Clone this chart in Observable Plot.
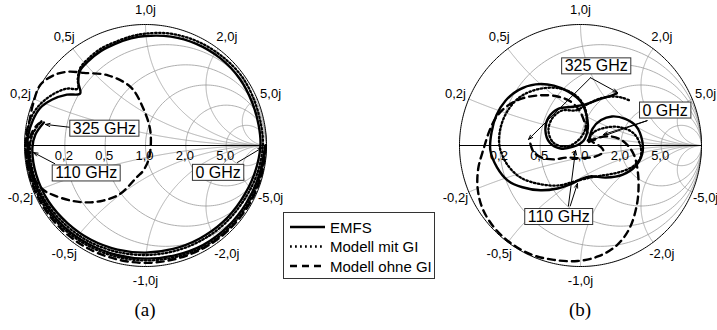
<!DOCTYPE html>
<html><head><meta charset="utf-8">
<script src="https://cdn.jsdelivr.net/npm/d3@7"></script>
<script src="https://cdn.jsdelivr.net/npm/@observablehq/plot@0.6"></script>
<style>
body{margin:0;background:#fff;}
#wrap{position:relative;width:717px;height:330px;overflow:hidden;font-family:"Liberation Sans",Arial,sans-serif;background:#fff;}
.chart{position:absolute;top:0;}
.cap{position:absolute;top:300px;font-family:"Liberation Serif","Times New Roman",serif;font-size:19px;transform:translateX(-50%);line-height:1;}
#legend{position:absolute;left:283px;top:212px;}
</style></head><body><div id="wrap"></div>
<script>
// ---- grid tick values / labels ----
const rValues = [0.2, 0.5, 1, 2, 5];
const rLabels = ["0,2", "0,5", "1,0", "2,0", "5,0"];
const xValues = [0.2, 0.5, 1, 2, 5, -0.2, -0.5, -1, -2, -5];
const xLabels = ["0,2j", "0,5j", "1,0j", "2,0j", "5,0j", "-0,2j", "-0,5j", "-1,0j", "-2,0j", "-5,0j"];
const seriesNames = ["EMFS", "Modell mit GI", "Modell ohne GI"];

// ---- chart (a): reflection coefficient [Re, Im] ----
const emfsA = [[0.99,0],[0.937,-0.251],[0.831,-0.48],[0.675,-0.675],[0.475,-0.823],[0.243,-0.908],[0,-0.935],[-0.242,-0.903],[-0.47,-0.814],[-0.672,-0.672],[-0.831,-0.48],[-0.937,-0.251],[-0.975,-0.02],
 [-0.97,0.08],[-0.93,0.21],[-0.87,0.31],[-0.77,0.38],[-0.65,0.42],[-0.54,0.43],
 [-0.555,0.52],[-0.54,0.62],[-0.47,0.70],[-0.37,0.78],[-0.25,0.84],[-0.12,0.885],[0,0.905],[0.21,0.9],[0.42,0.84],[0.62,0.72],[0.78,0.55],[0.88,0.36],[0.935,0.17],
 [0.95,0],[0.898,-0.241],[0.788,-0.455],[0.636,-0.636],[0.445,-0.771],[0.229,-0.855],[0,-0.885],[-0.231,-0.86],[-0.45,-0.779],[-0.643,-0.643],[-0.801,-0.463],[-0.903,-0.242],[-0.935,-0.02],[-0.91,0.09],[-0.84,0.19]];
const mitGIA = [[0.995,0],[0.947,-0.254],[0.844,-0.488],[0.686,-0.686],[0.483,-0.836],[0.247,-0.922],[0,-0.95],[-0.246,-0.918],[-0.478,-0.827],[-0.682,-0.682],[-0.844,-0.488],[-0.951,-0.255],[-0.99,-0.02],
 [-0.98,0.08],[-0.95,0.22],[-0.88,0.33],[-0.77,0.42],[-0.65,0.47],[-0.56,0.47],
 [-0.56,0.55],[-0.54,0.64],[-0.47,0.72],[-0.37,0.8],[-0.24,0.86],[-0.11,0.905],[0,0.925],[0.2,0.925],[0.43,0.86],[0.635,0.735],[0.8,0.565],[0.9,0.37],[0.955,0.17],
 [0.97,0],[0.918,-0.246],[0.805,-0.465],[0.65,-0.65],[0.455,-0.788],[0.234,-0.874],[0,-0.905],[-0.236,-0.879],[-0.46,-0.797],[-0.658,-0.658],[-0.818,-0.473],[-0.923,-0.247],[-0.955,-0.02],[-0.93,0.1],[-0.86,0.2]];
const ohneGIA = [[0.995,0],[0.956,-0.256],[0.853,-0.493],[0.693,-0.693],[0.488,-0.844],[0.251,-0.937],[0,-0.97],[-0.251,-0.937],[-0.488,-0.844],[-0.693,-0.693],[-0.853,-0.493],[-0.956,-0.256],[-0.99,-0.02],
 [-0.985,0.1],[-0.96,0.2],[-0.93,0.34],[-0.87,0.5],[-0.76,0.58],[-0.64,0.61],[-0.51,0.6],[-0.31,0.58],[-0.12,0.48],[-0.02,0.31],[0.04,0.12],[0.03,-0.1],[-0.02,-0.21],[-0.07,-0.26],[-0.21,-0.4],[-0.35,-0.455],[-0.48,-0.47],[-0.62,-0.455],[-0.76,-0.41],[-0.84,-0.37],[-0.91,-0.29],[-0.95,-0.165],[-0.965,-0.04],[-0.95,0.08],[-0.9,0.165],[-0.85,0.2]];

// ---- chart (b) ----
const emfsB = [[0.07,0.04],[0.10,0.14],[0.17,0.21],[0.26,0.24],[0.37,0.22],[0.46,0.16],[0.51,0.04],[0.51,-0.07],[0.455,-0.17],[0.35,-0.24],[0.21,-0.265],[0.08,-0.255],[0,-0.28],[-0.08,-0.32],[-0.19,-0.355],[-0.33,-0.37],[-0.48,-0.345],[-0.60,-0.29],[-0.69,-0.18],[-0.745,-0.04],[-0.735,0.11],[-0.695,0.25],[-0.62,0.37],[-0.51,0.46],[-0.37,0.505],[-0.22,0.495],[-0.10,0.445],[0,0.365],[0.05,0.25],[0.06,0.14],[0.025,0.04],[-0.06,-0.01],[-0.165,-0.025],[-0.255,0.025],[-0.29,0.125],[-0.265,0.23],[-0.18,0.305],[-0.065,0.32],[0.04,0.34],[0.15,0.38],[0.25,0.41],[0.30,0.43]];
const mitGIB = [[0.06,0.04],[0.11,0.11],[0.22,0.15],[0.33,0.15],[0.44,0.10],[0.495,0],[0.495,-0.10],[0.43,-0.175],[0.305,-0.225],[0.165,-0.25],[0.06,-0.27],[-0.06,-0.3],[-0.18,-0.33],[-0.33,-0.32],[-0.495,-0.265],[-0.61,-0.15],[-0.67,0],[-0.66,0.15],[-0.60,0.29],[-0.495,0.405],[-0.33,0.47],[-0.165,0.47],[-0.04,0.415],[0.035,0.315],[0.05,0.21],[0.025,0.10],[-0.04,0.025],[-0.125,-0.01],[-0.225,0.025],[-0.265,0.125],[-0.23,0.23],[-0.15,0.29],[-0.04,0.29],[0.065,0.345],[0.165,0.39],[0.265,0.405],[0.345,0.395],[0.41,0.37]];
const ohneGIB = [[0.07,0.03],[0.15,0.065],[0.25,0.075],[0.33,0.05],[0.40,-0.01],[0.445,-0.085],[0.47,-0.19],[0.48,-0.33],[0.465,-0.495],[0.405,-0.685],[0.30,-0.825],[0.15,-0.915],[-0.025,-0.955],[-0.22,-0.945],[-0.41,-0.90],[-0.585,-0.80],[-0.72,-0.67],[-0.81,-0.52],[-0.85,-0.355],[-0.845,-0.19],[-0.80,-0.025],[-0.745,0.14],[-0.685,0.25],[-0.60,0.33],[-0.48,0.39],[-0.33,0.415],[-0.19,0.405],[-0.085,0.365],[-0.01,0.29],[0.035,0.19],[0.06,0.10],[0.10,0.03],[0.165,-0.01],[0.19,-0.05],[0.125,-0.09],[0,-0.105],[-0.115,-0.10],[-0.22,-0.115],[-0.32,-0.10],[-0.39,-0.05],[-0.42,0.04]];

// ---- annotations: label text, label position, arrow tails/tips ----
const notesA = [
  {text: "325 GHz", x: -0.34, y: 0.14, arrows: [[-0.62, 0.15, -0.826, 0.174]]},
  {text: "110 GHz", x: -0.49, y: -0.23, arrows: [[-0.75, -0.15, -0.926, -0.058]]},
  {text: "0 GHz", x: 0.6, y: -0.225, arrows: [[0.76, -0.14, 0.967, -0.017]]}
];
const notesB = [
  {text: "325 GHz", x: 0.13, y: 0.655, arrows: [[0.083, 0.56, -0.43, 0.05], [0.083, 0.56, 0.306, 0.438]]},
  {text: "0 GHz", x: 0.70, y: 0.29, arrows: [[0.55, 0.205, 0.083, 0.041], [0.55, 0.205, 0.19, 0.091]]},
  {text: "110 GHz", x: -0.18, y: -0.59, arrows: [[-0.085, -0.5, -0.025, -0.314], [-0.1, -0.5, -0.041, -0.041]]}
];

// ---- Smith chart geometry ----
function gamma(r, x) { const den = (r + 1) * (r + 1) + x * x; return [(r * r + x * x - 1) / den, 2 * x / den]; }
const gridR = rValues.flatMap(r => d3.range(181).map(k => {
  const p = 2 * Math.PI * k / 180, c = r / (1 + r), rad = 1 / (1 + r);
  return {id: "r" + r, gx: c + rad * Math.cos(p), gy: rad * Math.sin(p)};
}));
const gridX = xValues.flatMap(x => d3.range(401).map(k => {
  if (k === 400) return {id: "x" + x, gx: 1, gy: 0};
  const t = k / 400, r = t / (1 - t); const g = gamma(r, x);
  return {id: "x" + x, gx: g[0], gy: g[1]};
}));
const rim = d3.range(361).map(k => ({gx: Math.cos(k * Math.PI / 180), gy: Math.sin(k * Math.PI / 180)}));
const rTicks = rValues.map((r, i) => ({gx: gamma(r, 0)[0], gy: 0, label: rLabels[i]}));
const xTicks = xValues.map((x, i) => { const g = gamma(0, x); return {gx: g[0] * 1.12, gy: g[1] * 1.12, label: xLabels[i]}; });

const styles = [
  {stroke: "#000", strokeWidth: 2.4},
  {stroke: "#000", strokeWidth: 2.3, strokeDasharray: "1.5 2.4"},
  {stroke: "#000", strokeWidth: 2.4, strokeDasharray: "7 5"}
];

function toRows(arr, id) { return arr.map(d => ({id, gx: d[0], gy: d[1]})); }

function smith(series, notes, left, width, mr) {
  const arrows = notes.flatMap(n => n.arrows.map(a => ({x1: a[0], y1: a[1], x2: a[2], y2: a[3]})));
  const marks = [
    Plot.line(gridR, {x: "gx", y: "gy", z: "id", stroke: "#9a9a9a", strokeWidth: 0.8}),
    Plot.line(gridX, {x: "gx", y: "gy", z: "id", stroke: "#9a9a9a", strokeWidth: 0.8}),
    Plot.line(rim, {x: "gx", y: "gy", stroke: "#000", strokeWidth: 1}),
    Plot.ruleY([0], {stroke: "#000", strokeWidth: 1}),
    Plot.text(rTicks, {x: "gx", y: "gy", text: "label", dy: 10, dx: -1, fontSize: 13, fill: "#000"}),
    Plot.text(xTicks, {x: "gx", y: "gy", text: "label", fontSize: 13, fill: "#000"}),
  ];
  [2, 1, 0].forEach(i => marks.push(Plot.line(toRows(series[i], seriesNames[i]), {x: "gx", y: "gy", curve: "catmull-rom", strokeLinejoin: "round", ...styles[i]})));
  marks.push(Plot.arrow(arrows, {x1: "x1", y1: "y1", x2: "x2", y2: "y2", stroke: "#000", strokeWidth: 1, headLength: 7, headAngle: 40}));
  marks.push(Plot.text(notes, {x: "x", y: "y", text: "text", fontSize: 16, fill: "#000"}));
  const svg = Plot.plot({
    width, height: 300, marginLeft: 24, marginRight: mr, marginTop: 24, marginBottom: 34,
    x: {domain: [-1, 1], axis: null}, y: {domain: [-1, 1], axis: null},
    style: {background: "transparent", overflow: "visible", maxWidth: "none", fontFamily: "Liberation Sans, Arial, sans-serif"},
    marks
  });
  const div = document.createElement("div");
  div.className = "chart"; div.style.left = left + "px";
  div.appendChild(svg);
  document.getElementById("wrap").appendChild(div);
  // boxes behind the annotation labels
  svg.querySelectorAll('g[font-size="16"] text').forEach(t => {
    const b = t.getBBox();
    const rect = document.createElementNS("http://www.w3.org/2000/svg", "rect");
    rect.setAttribute("x", b.x - 3); rect.setAttribute("y", b.y + 0.5);
    rect.setAttribute("width", b.width + 6); rect.setAttribute("height", b.height - 1);
    rect.setAttribute("fill", "#fff"); rect.setAttribute("stroke", "#333"); rect.setAttribute("stroke-width", 1);
    if (t.getAttribute("transform")) rect.setAttribute("transform", t.getAttribute("transform"));
    t.parentNode.insertBefore(rect, t);
  });
}

smith([emfsA, mitGIA, ohneGIA], notesA, 0, 290, 24);
smith([emfsB, mitGIB, ohneGIB], notesB, 435, 282, 16);

// legend
const wrap = document.getElementById("wrap");
const leg = document.createElement("div"); leg.id = "legend";
const dash = ["", "1.8 3.2", "7 5"];
leg.innerHTML = `<svg width="152" height="67" style="display:block">
<rect x="0.5" y="0.5" width="151" height="66" fill="#fff" stroke="#333"/>
${seriesNames.map((s, i) => `<line x1="7" x2="42" y1="${15 + i * 19.5}" y2="${15 + i * 19.5}" stroke="#000" stroke-width="2.4" ${dash[i] ? `stroke-dasharray="${dash[i]}"` : ""}/>
<text x="47" y="${15 + i * 19.5}" dominant-baseline="central" font-size="15" font-family="Liberation Sans, Arial, sans-serif">${s}</text>`).join("")}
</svg>`;
wrap.appendChild(leg);
[["(a)", 145], ["(b)", 580]].forEach(([t, x]) => {
  const c = document.createElement("div"); c.className = "cap"; c.style.left = x + "px"; c.textContent = t; wrap.appendChild(c);
});
</script></body></html>
